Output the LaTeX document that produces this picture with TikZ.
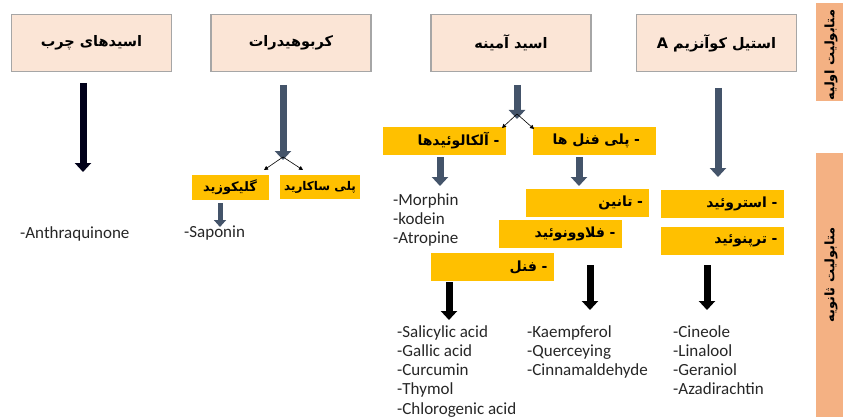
\documentclass[tikz,border=0pt]{standalone}
\usepackage{fontspec}
\setmainfont{Carlito}
\newfontfamily\fa[Script=Arabic]{DejaVu Sans}
\TeXXeTstate=1
\usetikzlibrary{arrows.meta}
\definecolor{peach}{HTML}{FBE5D6}
\definecolor{boxline}{HTML}{A6A6A6}
\definecolor{gold}{HTML}{FFC000}
\definecolor{sidefill}{HTML}{F4B183}
\definecolor{slate}{HTML}{44546A}
\definecolor{ink}{HTML}{262626}
\begin{document}
\begin{tikzpicture}[x=1pt,y=-1pt,
  topbox/.style={draw=boxline, line width=1.5pt, fill=peach, minimum width=160pt, minimum height=57pt,
    inner sep=0pt, font=\fa\bfseries\fontsize{14.5}{17}\selectfont},
  ybox/.style={fill=gold, minimum height=28pt, inner xsep=6pt, inner ysep=0pt, text width=111pt,
    align=right, font=\fa\bfseries\fontsize{14}{16}\selectfont},
  sbox/.style={fill=gold, minimum height=25pt, minimum width=77pt, inner sep=0pt,
    font=\fa\bfseries\fontsize{13}{15}\selectfont},
  sidebar/.style={fill=sidefill, inner sep=0pt},
  sidetext/.style={rotate=90, font=\fa\bfseries\fontsize{13}{15}\selectfont},
  list/.style={anchor=north west, align=left, inner sep=0pt, text=ink,
    font=\fontsize{17}{19.3}\selectfont},
  fatblue/.style={draw=slate, line width=7pt, -{Triangle[width=16pt,length=9pt]}},
  fatblack/.style={draw=black, line width=7pt, -{Triangle[width=16pt,length=9pt]}},
  smallblue/.style={draw=slate, line width=5pt, -{Triangle[width=12pt,length=7pt]}},
  thin/.style={draw=black, line width=0.6pt, -{Triangle[width=4pt,length=4pt]}}
]
\useasboundingbox (0,0) rectangle (843,417);

% primary boxes
\node[topbox] (fat)  at (91.5,43)  {\beginR اسیدهای چرب\endR};
\node[topbox] (carb) at (291,43)   {\beginR کربوهیدرات\endR};
\node[topbox] (amino) at (511,43)  {\beginR اسید آمینه\endR};
\node[topbox] (acoa) at (716.5,43) {\beginR استیل کوآنزیم A\endR};

% side bars
\node[sidebar, minimum width=27pt, minimum height=98pt] (prim) at (829.5,52) {};
\node[sidetext] (primt) at (831,55) {\beginR متابولیت اولیه\endR};
\node[sidebar, minimum width=27pt, minimum height=264pt] (sec) at (829.5,285) {};
\node[sidetext] (sect) at (831,275) {\beginR متابولیت ثانویه\endR};

% yellow boxes
\node[sbox] (gly) at (230,187.5) {\beginR گلیکوزید\endR};
\node[sbox, minimum width=80pt, minimum height=24pt, font=\fa\bfseries\fontsize{12}{14}\selectfont] (poly) at (320,187) {\beginR پلی ساکارید\endR};
\node[ybox] (alk) at (444,141) {\beginR - آلکالوئیدها\endR};
\node[ybox, inner xsep=16pt, text width=91pt] (pph) at (594.5,141) {\beginR - پلی فنل ها\endR};
\node[ybox] (tan) at (587.5,202.5) {\beginR - تانین\endR};
\node[ybox] (flav) at (560,234) {\beginR - فلاوونوئید\endR};
\node[ybox] (phen) at (492,267) {\beginR - فنل\endR};
\node[ybox] (ster) at (722,204) {\beginR - استروئید\endR};
\node[ybox] (terp) at (722,241) {\beginR - ترپنوئید\endR};

% lists
\node[list] (anth) at (20,226) {-Anthraquinone};
\node[list] (sap) at (184,226) {-Saponin};
\node[list] (alkl) at (393,193) {-Morphin\\-kodein\\-Atropine};
\node[list] (phl) at (397,325) {-Salicylic acid\\-Gallic acid\\-Curcumin\\-Thymol\\-Chlorogenic acid};
\node[list] (flvl) at (527,325) {-Kaempferol\\-Querceying\\-Cinnamaldehyde};
\node[list] (trpl) at (673,325) {-Cineole\\-Linalool\\-Geraniol\\-Azadirachtin};

% arrow coordinates
\coordinate (f1) at (83,83);   \coordinate (f2) at (83,172);
\coordinate (c1) at (283,85);  \coordinate (c2) at (283,160);
\coordinate (am1) at (517,85); \coordinate (am2) at (517,119);
\coordinate (ac1) at (718,88); \coordinate (ac2) at (718,177);
\coordinate (g1) at (220,203); \coordinate (g2) at (220,227);
\coordinate (al1) at (440,157); \coordinate (al2) at (440,186);
\coordinate (pp1) at (579,157); \coordinate (pp2) at (579,186);
\coordinate (ph1) at (449,282); \coordinate (ph2) at (449,320);
\coordinate (fl1) at (590,265); \coordinate (fl2) at (590,310);
\coordinate (tp1) at (707,265); \coordinate (tp2) at (707,310);
\coordinate (cs) at (283,157); \coordinate (cl) at (264,170); \coordinate (cr) at (303,170);
\coordinate (as) at (517,114); \coordinate (al) at (502,128); \coordinate (ar) at (534,129);

\draw[fatblack, draw=black!90!blue] (f1) -- (f2);
\draw[fatblue] (c1) -- (c2);
\draw[fatblue] (am1) -- (am2);
\draw[fatblue] (ac1) -- (ac2);
\draw[smallblue] (g1) -- (g2);
\draw[fatblue] (al1) -- (al2);
\draw[fatblue] (pp1) -- (pp2);
\draw[fatblack] (ph1) -- (ph2);
\draw[fatblack] (fl1) -- (fl2);
\draw[fatblack] (tp1) -- (tp2);
\draw[thin] (cs) -- (cl);
\draw[thin] (cs) -- (cr);
\draw[thin] (as) -- (al);
\draw[thin] (as) -- (ar);
\end{tikzpicture}
\end{document}
